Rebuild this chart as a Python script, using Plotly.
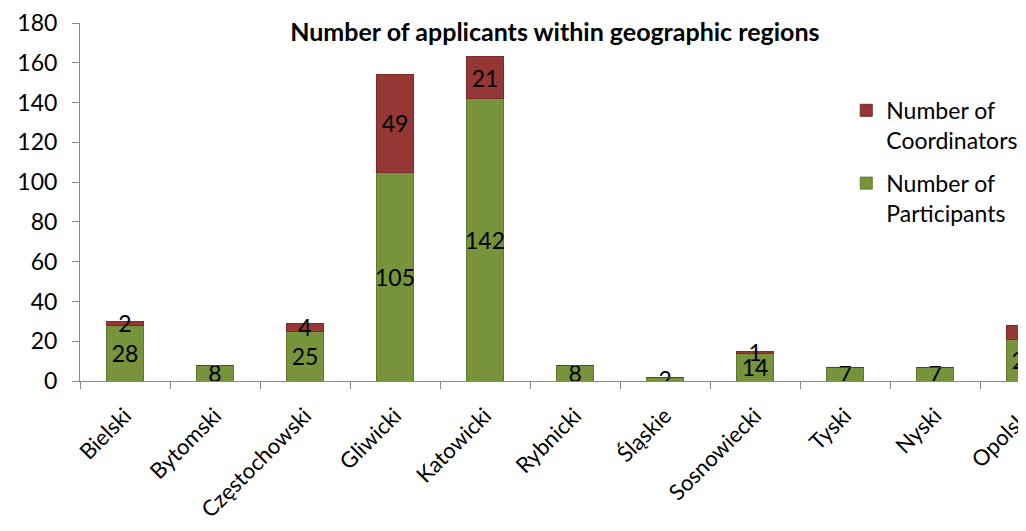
import plotly.graph_objects as go

# ── Data ────────────────────────────────────────────────────────────────────
regions = [
    "Bielski", "Bytomski", "Częstochowski", "Gliwicki", "Katowicki",
    "Rybnicki", "Śląskie", "Sosnowiecki", "Tyski", "Nyski", "Opolski",
]
participants = [28, 8, 25, 105, 142, 8, 2, 14, 7, 7, 21]
coordinators = [2, 0, 4, 49, 21, 0, 0, 1, 0, 0, 7]

GREEN = "#77933C"
RED = "#953735"
FONT = "Lato"

# page body has an 8px margin, so the figure is drawn 8px in from the corner
W, H = 1018, 523


def _labels(vals):
    return [str(v) if v else "" for v in vals]


fig = go.Figure()
fig.add_trace(go.Bar(
    x=regions, y=participants, name="Number of<br>Participants",
    legendgroup="p", legendrank=2,
    marker=dict(color=GREEN, line=dict(color="#5f7a2c", width=1)),
    text=_labels(participants),
))
fig.add_trace(go.Bar(
    x=regions, y=coordinators, name="Number of<br>Coordinators",
    legendgroup="c", legendrank=1,
    marker=dict(color=RED, line=dict(color="#7a2b2a", width=1)),
    text=_labels(coordinators),
))
fig.update_traces(
    textposition="inside", insidetextanchor="middle", textangle=0,
    textfont=dict(color="#000000", size=23, family=FONT),
)

fig.update_layout(
    width=W, height=H,
    barmode="stack", bargap=0.59,
    paper_bgcolor="white", plot_bgcolor="white",
    font=dict(family=FONT, color="#000000", size=22),
    margin=dict(l=72, r=0, t=15, b=150),
    uniformtext=dict(minsize=23, mode="show"),
    title=dict(
        text="<b>Number of applicants within geographic regions</b>",
        x=0.502, xref="paper", xanchor="center",
        y=1 - 24 / H, yanchor="middle",
        font=dict(size=25, family=FONT),
    ),
    legend=dict(
        x=0.81, y=0.816, xanchor="left", yanchor="top",
        traceorder="grouped", tracegroupgap=10,
        valign="top", font=dict(size=23),
        bgcolor="rgba(0,0,0,0)", itemwidth=30,
    ),
    showlegend=True,
)
fig.update_xaxes(
    range=[-0.5, 10.01], tickangle=-45, tickson="boundaries",
    ticks="outside", ticklen=7, tickcolor="#888888",
    showline=True, linecolor="#888888", linewidth=1,
    showgrid=False, tickfont=dict(size=22), automargin=False,
    ticklabelstandoff=12,
)
fig.update_yaxes(
    range=[0, 180], dtick=20, ticks="outside", ticklen=7,
    tickcolor="#888888", showline=True, linecolor="#888888",
    linewidth=1, showgrid=False, zeroline=False,
    tickfont=dict(size=23), ticklabelstandoff=10, automargin=False,
)

fig.write_html("out.html")
